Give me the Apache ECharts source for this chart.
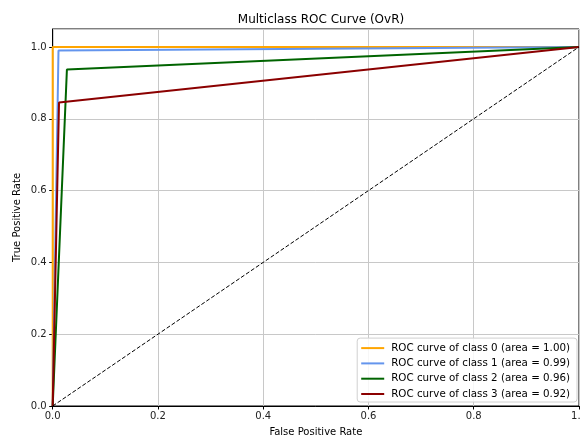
<!DOCTYPE html>
<html lang="en">
<head>
    <meta charset="utf-8" />
    <title>Multiclass ROC Curve (OvR)</title>
    <script src="https://cdn.jsdelivr.net/npm/echarts@6/dist/echarts.min.js"></script>
    <style>
        html, body { margin: 0; padding: 0; background: #fff; }
        #roc { width: 581px; height: 437px; }
    </style>
</head>
<body>
    <div id="roc"></div>
    <script>
        // ROC points
        var classNames = ['class 0', 'class 1', 'class 2', 'class 3'];
        var aucLabels = ['1.00', '0.99', '0.96', '0.92'];
        var fpr0 = [0.0, 0.0, 1.0];
        var tpr0 = [0.0, 1.0, 1.0];
        var fpr1 = [0.0, 0.011, 1.0];
        var tpr1 = [0.0, 0.99, 1.0];
        var fpr2 = [0.0, 0.027, 1.0];
        var tpr2 = [0.0, 0.937, 1.0];
        var fpr3 = [0.0, 0.012, 1.0];
        var tpr3 = [0.0, 0.845, 1.0];
        var chanceFpr = [0.0, 1.0];
        var chanceTpr = [0.0, 1.0];
        var colors = ['#ffa500', '#6495ed', '#006400', '#8b0000'];

        function zip(xs, ys) {
            var out = [];
            for (var i = 0; i < xs.length; i++) out.push([xs[i], ys[i]]);
            return out;
        }

        var curves = [[fpr0, tpr0], [fpr1, tpr1], [fpr2, tpr2], [fpr3, tpr3]];
        var font = 'DejaVu Sans';
        var series = [];
        var legendNames = [];
        for (var k = 0; k < curves.length; k++) {
            var name = 'ROC curve of ' + classNames[k] + ' (area = ' + aucLabels[k] + ')';
            legendNames.push(name);
            series.push({
                name: name,
                type: 'line',
                symbol: 'none',
                data: zip(curves[k][0], curves[k][1]),
                lineStyle: { color: colors[k], width: 2 },
                itemStyle: { color: colors[k] },
                animation: false,
                z: 3 + k
            });
        }
        series.push({
            name: 'chance',
            type: 'line',
            symbol: 'none',
            data: zip(chanceFpr, chanceTpr),
            lineStyle: { color: '#000', width: 1, type: [4, 2] },
            animation: false,
            z: 10
        });

        var chart = echarts.init(document.getElementById('roc'));
        chart.setOption({
            backgroundColor: '#fff',
            textStyle: { fontFamily: font },
            title: {
                text: 'Multiclass ROC Curve (OvR)',
                left: 316,
                top: 9,
                textAlign: 'center',
                textStyle: { fontFamily: font, fontSize: 12, fontWeight: 'normal', color: '#000' }
            },
            grid: {
                left: 52.7, right: 2, top: 29, bottom: 31,
                containLabel: false,
                outerBoundsMode: 'none',
                show: true, borderColor: '#000', borderWidth: 1
            },
            legend: {
                data: legendNames,
                orient: 'vertical',
                right: 4,
                bottom: 35,
                itemWidth: 23,
                itemHeight: 12,
                itemGap: 5.3,
                padding: [5, 7, 3, 3],
                backgroundColor: 'rgba(255,255,255,0.85)',
                borderColor: '#d0d0d0',
                borderWidth: 1,
                borderRadius: 3,
                itemStyle: { opacity: 0 },
                lineStyle: { opacity: 1 },
                textStyle: { fontFamily: font, fontSize: 10.3, color: '#000', padding: [0, 0, 0, 2] }
            },
            xAxis: {
                type: 'value',
                min: 0, max: 1, interval: 0.2,
                name: 'False Positive Rate',
                nameLocation: 'middle',
                nameGap: 21.5,
                nameMoveOverlap: false,
                nameTextStyle: { fontFamily: font, fontSize: 10, color: '#000' },
                axisLine: { show: true, onZero: false, lineStyle: { color: '#000' } },
                axisTick: { show: true, length: 3.5, lineStyle: { color: '#000' } },
                axisLabel: {
                    fontFamily: font, fontSize: 10, color: '#222', margin: 5,
                    formatter: function (v) { return v.toFixed(1); }
                },
                splitLine: { show: true, lineStyle: { color: '#c8c8c8', width: 1 } }
            },
            yAxis: {
                type: 'value',
                min: 0, max: 1.05, interval: 0.2,
                name: 'True Positive Rate',
                nameLocation: 'middle',
                nameGap: 30,
                nameMoveOverlap: false,
                nameTextStyle: { fontFamily: font, fontSize: 10, color: '#000' },
                axisLine: { show: true, onZero: false, lineStyle: { color: '#000' } },
                axisTick: { show: true, length: 3.5, lineStyle: { color: '#000' } },
                axisLabel: {
                    fontFamily: font, fontSize: 10, color: '#222', margin: 6,
                    showMaxLabel: false,
                    formatter: function (v) { return v.toFixed(1); }
                },
                splitLine: { show: true, lineStyle: { color: '#c8c8c8', width: 1 } }
            },
            series: series
        });
    </script>
</body>
</html>
